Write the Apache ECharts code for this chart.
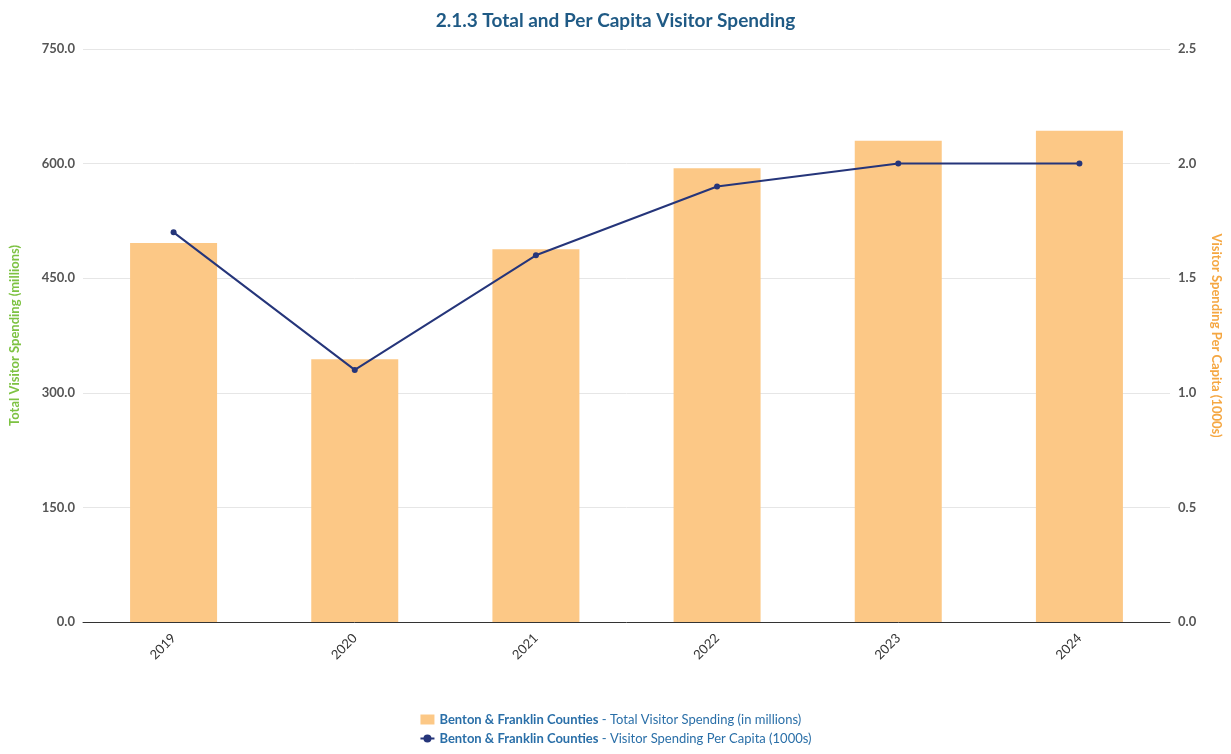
<!DOCTYPE html>
<html><head><meta charset="utf-8">
<script src="https://cdn.jsdelivr.net/npm/echarts@6/dist/echarts.min.js"></script>
<style>html,body{margin:0;padding:0;background:#fff}#c{width:1231px;height:754px}</style>
</head><body><div id="c"></div>
<script>
const categories = ['2019','2020','2021','2022','2023','2024'];
const totalSpending = [496, 344, 488, 594, 630, 643];
const perCapita = [1.7, 1.1, 1.6, 1.9, 2.0, 2.0];
const leftTicks = [0, 150, 300, 450, 600, 750];
const chart = echarts.init(document.getElementById('c'));
const F = 'Lato, sans-serif';
chart.setOption({
  animation:false,
  textStyle:{fontFamily:F},
  title:{text:'2.1.3 Total and Per Capita Visitor Spending',left:'center',top:6,
    textStyle:{fontFamily:F,fontSize:19,fontWeight:'bold',color:'#1f5a85'}},
  grid:{left:80,right:61,top:49,bottom:132},
  legend:{bottom:4,orient:'vertical',left:'center',itemGap:6,itemWidth:14,itemHeight:10,
    data:[{name:'Total',icon:'rect'},{name:'PerCapita'}],
    formatter:n=>n==='Total'?'{b|Benton & Franklin Counties} - Total Visitor Spending (in millions)':'{b|Benton & Franklin Counties} - Visitor Spending Per Capita (1000s)',
    textStyle:{fontFamily:F,fontSize:13,color:'#2a6fa8',rich:{b:{fontWeight:'bold',fontSize:13,color:'#2a6fa8',fontFamily:F}}}},
  xAxis:{type:'category',data:categories,
    axisLine:{lineStyle:{color:'#333'}},axisTick:{show:false},
    axisLabel:{rotate:45,color:'#333',fontSize:13,margin:14}},
  yAxis:[{type:'value',min:0,max:750,interval:150,
    name:'Total Visitor Spending (millions)',nameLocation:'middle',nameGap:62,
    nameTextStyle:{color:'#7dc242',fontWeight:'bold',fontSize:13},
    axisLabel:{formatter:v=>v.toFixed(1),color:'#555',fontWeight:'bold',fontSize:13},
    splitLine:{lineStyle:{color:'#e6e6e6'}}},
   {type:'value',min:0,max:2.5,interval:0.5,
    name:'Visitor Spending Per Capita (1000s)',nameLocation:'middle',nameGap:40,nameRotate:-90,
    nameTextStyle:{color:'#f5a742',fontWeight:'bold',fontSize:13},
    axisLabel:{formatter:v=>v.toFixed(1),color:'#555',fontWeight:'bold',fontSize:13},
    splitLine:{show:false}}],
  series:[
   {name:'Total',type:'bar',data:totalSpending,barWidth:87,itemStyle:{color:'#fcc886'}},
   {name:'PerCapita',type:'line',yAxisIndex:1,data:perCapita,symbol:'circle',symbolSize:6,
    lineStyle:{color:'#25357a',width:2},itemStyle:{color:'#25357a'}}
  ]
});
</script></body></html>
